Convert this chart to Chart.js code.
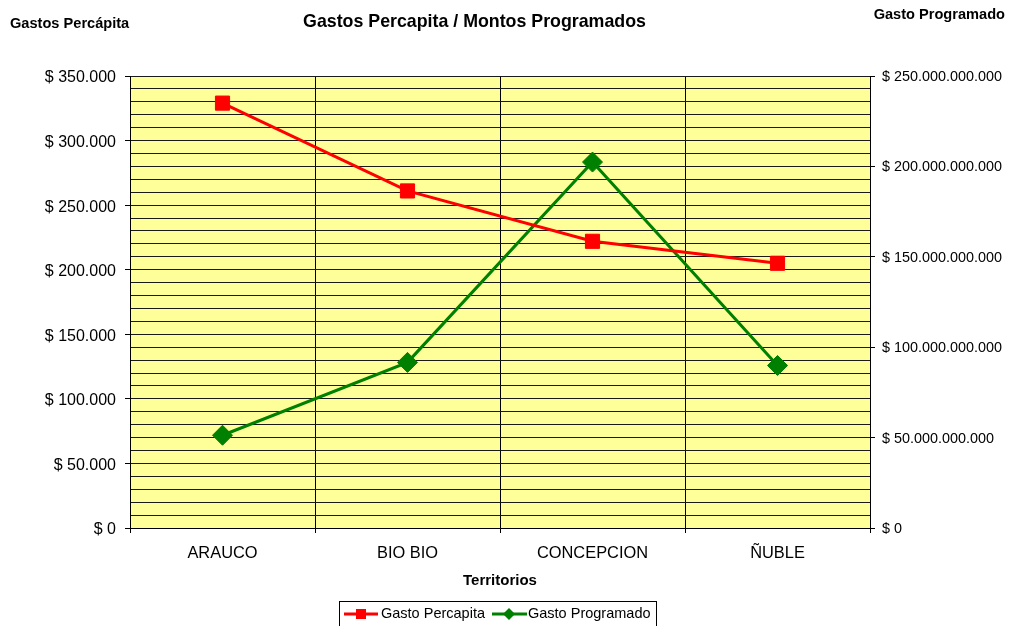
<!DOCTYPE html>
<html>
<head>
<meta charset="utf-8">
<script src="https://cdn.jsdelivr.net/npm/chart.js@4.4.1/dist/chart.umd.min.js"></script>
<style>
  html, body { margin: 0; padding: 0; background: #fff; }
  canvas { display: block; }
</style>
</head>
<body>
<canvas id="c" width="1012" height="626"></canvas>
<script>
// ---- data ----
const categories = ['ARAUCO', 'BIO BIO', 'CONCEPCION', 'ÑUBLE'];
const gastoPercapita = [329000, 261000, 222000, 205000];
const gastoProgramado = [51300000000, 91600000000, 202400000000, 89900000000];
const leftTicks = [0, 50000, 100000, 150000, 200000, 250000, 300000, 350000];
const rightTicks = [0, 50000000000, 100000000000, 150000000000, 200000000000, 250000000000];
const chartTitle = 'Gastos Percapita / Montos Programados';
const leftAxisTitle = 'Gastos Percápita';
const rightAxisTitle = 'Gasto Programado';
const xAxisTitle = 'Territorios';
const seriesNames = ['Gasto Percapita', 'Gasto Programado'];

const FONT = '"Liberation Sans", Arial, sans-serif';

function fmt(v) {
  const s = Math.round(v).toString().replace(/\B(?=(\d{3})+(?!\d))/g, '.');
  return '$ ' + s;
}

const bgPlugin = {
  id: 'bg',
  beforeDraw(chart) {
    const { ctx, chartArea: a } = chart;
    ctx.save();
    ctx.fillStyle = '#FFFF99';
    ctx.fillRect(a.left, a.top, a.right - a.left, a.bottom - a.top);
    ctx.restore();
  }
};

const textPlugin = {
  id: 'texts',
  afterDraw(chart) {
    const ctx = chart.ctx;
    ctx.save();
    ctx.fillStyle = '#000';
    ctx.textBaseline = 'middle';
    // title
    ctx.font = 'bold 17.8px ' + FONT;
    ctx.textAlign = 'center';
    ctx.fillText(chartTitle, 474.5, 22);
    // axis corner titles
    ctx.font = 'bold 14.6px ' + FONT;
    ctx.textAlign = 'left';
    ctx.fillText(leftAxisTitle, 10, 24);
    ctx.textAlign = 'right';
    ctx.fillText(rightAxisTitle, 1005, 15);

    // legend
    ctx.strokeStyle = '#000';
    ctx.lineWidth = 1;
    ctx.strokeRect(339.5, 601.5, 317, 30);
    ctx.font = '14.5px ' + FONT;
    ctx.textAlign = 'left';
    // series 1
    ctx.strokeStyle = '#FF0000';
    ctx.lineWidth = 3;
    ctx.beginPath(); ctx.moveTo(344, 614); ctx.lineTo(378, 614); ctx.stroke();
    ctx.fillStyle = '#FF0000';
    ctx.fillRect(356, 609, 10, 10);
    ctx.fillStyle = '#000';
    ctx.fillText(seriesNames[0], 381, 614);
    // series 2
    ctx.strokeStyle = '#008000';
    ctx.beginPath(); ctx.moveTo(492, 614); ctx.lineTo(527, 614); ctx.stroke();
    ctx.fillStyle = '#008000';
    ctx.beginPath();
    ctx.moveTo(509, 608); ctx.lineTo(515, 614); ctx.lineTo(509, 620); ctx.lineTo(503, 614);
    ctx.closePath(); ctx.fill();
    ctx.fillStyle = '#000';
    ctx.fillText(seriesNames[1], 528, 614);
    ctx.restore();
  }
};

new Chart(document.getElementById('c'), {
  type: 'line',
  data: {
    labels: categories,
    datasets: [
      {
        label: seriesNames[0],
        data: gastoPercapita,
        yAxisID: 'y',
        borderColor: '#FF0000',
        backgroundColor: '#FF0000',
        borderWidth: 3,
        pointStyle: 'rect',
        pointRadius: 10,
        pointBorderWidth: 1,
        tension: 0
      },
      {
        label: seriesNames[1],
        data: gastoProgramado,
        yAxisID: 'y1',
        borderColor: '#008000',
        backgroundColor: '#008000',
        borderWidth: 3,
        pointStyle: 'rectRot',
        pointRadius: 10,
        pointBorderWidth: 1,
        tension: 0
      }
    ]
  },
  options: {
    responsive: false,
    animation: false,
    layout: { padding: { top: 76, left: 0, right: 0, bottom: 0 } },
    plugins: {
      legend: { display: false },
      title: { display: false },
      tooltip: { enabled: false }
    },
    scales: {
      x: {
        type: 'category',
        offset: true,
        grid: {
          offset: true,
          color: '#000',
          lineWidth: 1,
          tickLength: 5,
          tickColor: '#000'
        },
        border: { color: '#000', width: 1 },
        ticks: {
          color: '#000',
          font: { family: FONT, size: 16.4 },
          padding: 11,
          maxRotation: 0,
          autoSkip: false
        },
        title: {
          display: true,
          text: xAxisTitle,
          color: '#000',
          font: { family: FONT, size: 15, weight: 'bold' },
          padding: { top: 0, bottom: 36.5 }
        },
        afterFit(s) { s.height = 98; }
      },
      y: {
        position: 'left',
        min: 0,
        max: 350000,
        grid: {
          color: '#1a1a1a',
          lineWidth: 1,
          tickLength: 5,
          tickColor: (c) => (c.tick && c.tick.value % 50000 === 0) ? '#000' : 'rgba(0,0,0,0)'
        },
        border: { color: '#000', width: 1 },
        ticks: {
          stepSize: 10000,
          autoSkip: false,
          color: '#000',
          padding: 9,
          labelOffset: 2,
          font: { family: FONT, size: 16 },
          callback: (v) => leftTicks.includes(v) ? fmt(v) : ''
        },
        afterFit(s) { s.width = 130; }
      },
      y1: {
        position: 'right',
        min: 0,
        max: 250000000000,
        grid: {
          drawOnChartArea: false,
          tickLength: 5,
          tickColor: '#000'
        },
        border: { color: '#000', width: 1 },
        ticks: {
          stepSize: 50000000000,
          autoSkip: false,
          color: '#000',
          padding: 7,
          labelOffset: 1,
          font: { family: FONT, size: 14.4 },
          callback: (v) => rightTicks.includes(v) ? fmt(v) : ''
        },
        afterFit(s) { s.width = 142; }
      }
    }
  },
  plugins: [bgPlugin, textPlugin]
});
</script>
</body>
</html>
